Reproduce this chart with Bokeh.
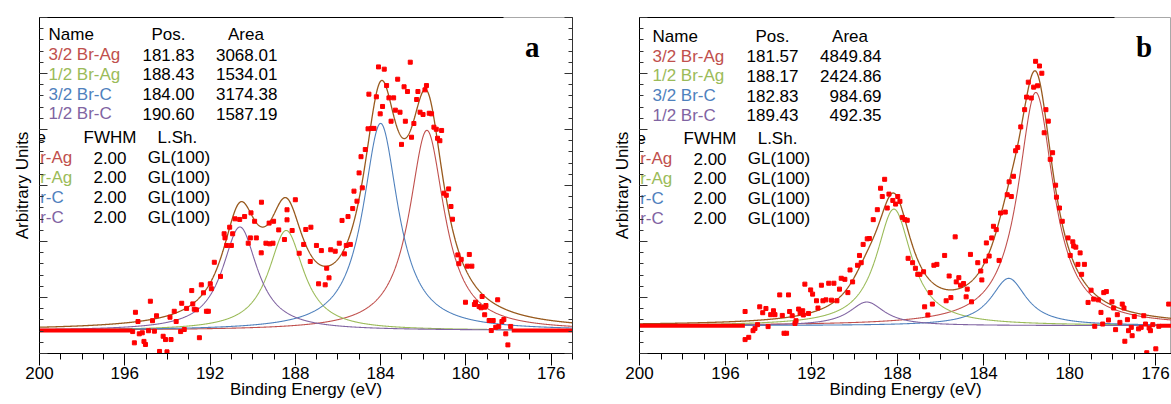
import numpy as np
from bokeh.plotting import figure
from bokeh.layouts import row
from bokeh.models import Range1d, FixedTicker, LinearAxis, ColumnDataSource, CustomJSTickFormatter
from bokeh.core.properties import value
from bokeh.embed import file_html
from bokeh.resources import INLINE

# ---------------- data ----------------
peak_names = ["3/2 Br-Ag", "1/2 Br-Ag", "3/2 Br-C", "1/2 Br-C"]
peak_colors = ["#c0504d", "#9bbb59", "#4f81bd", "#8064a2"]
fwhm = [2.00, 2.00, 2.00, 2.00]
line_shape = ["GL(100)", "GL(100)", "GL(100)", "GL(100)"]

pos_a = [181.83, 188.43, 184.00, 190.60]
area_a = [3068.01, 1534.01, 3174.38, 1587.19]
pos_b = [181.57, 188.17, 182.83, 189.43]
area_b = [4849.84, 2424.86, 984.69, 492.35]

background_a = 112.0
background_b = 184.0
# measured window; outside it the recorded data sit on the background
window_a = [195.65, 177.85]
window_b = [195.10, 175.80]

x_ticks = [200, 196, 192, 188, 184, 180, 176]

pts_a_x = [184.10, 183.83, 182.61, 183.20, 183.72, 182.90, 182.74, 184.55, 184.20, 183.61,
           183.39, 182.25, 181.85, 181.92, 182.31, 183.91, 183.31, 183.09, 182.15, 182.01,
           181.72, 181.61, 184.02, 183.51, 182.84, 182.44, 184.59, 184.42, 184.31, 181.50,
           181.39, 181.14, 182.55, 183.02, 181.33, 181.22, 184.72, 184.92, 185.01, 184.86,
           185.25, 181.03, 180.92, 180.81, 185.11, 185.31, 180.70, 185.53, 185.81, 180.63,
           189.59, 188.00, 190.08, 188.39, 190.38, 190.83, 190.61, 189.91, 189.02, 191.08,
           189.23, 188.39, 188.78, 188.15, 190.94, 191.34, 190.11, 189.83,
           195.50, 194.80, 195.38, 195.63, 195.32, 195.18, 195.55, 195.10, 195.03, 194.89,
           194.70, 194.61, 194.51, 194.37, 194.20, 194.09, 194.02, 193.88, 193.83, 193.68,
           193.59, 193.38, 193.33, 193.21, 193.10, 192.86, 192.81, 192.74, 192.64, 192.50,
           192.41, 192.31, 192.17, 192.08, 191.94, 191.99, 191.80, 191.51, 191.30, 191.22,
           191.00, 190.21, 189.60, 189.38, 189.20, 189.05, 188.51, 187.61, 187.82, 187.30,
           187.01, 186.78, 186.91, 186.60, 186.42, 186.53, 186.34, 186.13, 185.94, 185.70,
           185.61, 185.42, 187.51, 187.27,
           180.38, 180.22, 180.33, 179.84, 179.93, 179.72, 180.02, 179.55, 179.60, 179.38,
           179.29, 179.12, 179.24, 178.51, 179.06, 179.12, 178.91, 178.72, 178.60, 178.81,
           178.46, 178.31, 178.22, 178.13, 178.03, 177.90]
pts_a_y = [1398, 1387, 1421, 1338, 1307, 1301, 1278, 1265, 1252, 1247,
           1247, 1278, 1307, 1286, 1239, 1205, 1187, 1177, 1177, 1166,
           1172, 1169, 1169, 1133, 1133, 1122, 1096, 1098, 1098, 1104,
           1094, 1088, 1055, 1020, 1050, 1038, 995, 960, 881, 808,
           792, 782, 772, 803, 743, 707, 717, 668, 649, 655,
           738, 750, 686, 701, 668, 657, 654, 645, 645, 616,
           636, 652, 603, 600, 584, 584, 564, 564,
           201, 255, 156, 107, 96, 101, 52, 59, 44, 111,
           160, 109, 184, 10, 84, 68, 8, 177, 68, 206,
           156, 107, 245, 117, 220, 307, 242, 216, 213, 77,
           335, 296, 206, 206, 316, 340, 445, 376, 564, 527,
           527, 538, 491, 538, 535, 538, 556, 532, 489, 449,
           527, 502, 340, 335, 369, 416, 506, 499, 538, 486,
           527, 532, 605, 616,
           481, 459, 438, 483, 426, 426, 250, 250, 239, 229,
           223, 226, 278, 262, 234, 189, 161, 161, 128, 112,
           132, 156, 166, 96, 42, 132]

pts_b_x = [181.58, 181.40, 181.29, 181.92, 181.49, 181.67, 182.00, 181.78, 182.09, 181.10,
           180.99, 182.27, 181.18, 182.41, 182.51, 180.79, 180.90, 182.61, 182.81, 180.65,
           182.90, 182.71, 180.61, 180.47, 183.21, 182.99, 180.34,
           188.60, 188.79, 188.71, 188.40, 188.22, 188.09, 187.99, 187.89, 188.48, 187.78,
           187.66, 187.55, 188.94, 189.13,
           195.09, 194.92, 195.09, 194.72, 194.63, 194.51, 194.41, 194.27, 194.12, 194.02,
           193.90, 193.77, 193.70, 193.48, 193.36, 193.28, 193.16, 193.07, 193.02, 192.90,
           192.72, 192.77, 192.60, 192.53, 192.41, 192.38, 192.31, 192.14, 192.04, 191.95,
           191.77, 191.70, 191.54, 191.47, 191.33, 191.20, 191.07, 190.96, 190.82, 190.70,
           190.62, 190.45, 190.31, 190.21, 190.09, 189.86, 189.77, 189.69, 189.60, 189.41,
           189.31,
           187.51, 187.30, 187.17, 187.06, 186.96, 186.79, 186.74, 186.59, 186.48, 186.38,
           186.31, 186.17, 185.81, 185.74, 185.60, 185.52, 185.32, 185.27, 185.15, 185.07,
           184.93, 184.81, 184.76, 184.61, 184.27, 184.56, 184.13, 184.08, 183.91, 183.87,
           183.74, 183.62, 183.54, 183.41, 183.28,
           180.07, 179.85, 179.81, 179.71, 179.97, 179.51, 179.61, 179.44, 179.31, 179.14,
           179.00, 178.88, 178.66, 178.41, 178.29, 178.54, 178.83, 178.46, 178.19, 178.03,
           177.95, 177.78, 177.86, 177.55, 177.47, 177.31, 177.26, 177.13, 177.09, 177.43,
           176.99, 176.79, 176.67, 176.55, 176.41, 176.30, 176.24, 176.13, 175.99, 175.39,
           177.66, 176.47, 175.85]
pts_b_y = [1934, 1903, 1855, 1796, 1772, 1763, 1697, 1691, 1614, 1614,
           1538, 1500, 1461, 1364, 1342, 1329, 1285, 1173, 1136, 1114,
           1051, 1039, 1035, 963, 930, 936, 875,
           1153, 1094, 1039, 1055, 1013, 989, 1039, 1007, 963, 901,
           886, 882, 952, 886,
           278, 107, 92, 151, 166, 191, 309, 270, 298, 178,
           257, 283, 257, 388, 252, 134, 134, 388, 278, 250,
           217, 199, 294, 268, 283, 255, 459, 265, 421, 393,
           349, 301, 452, 349, 355, 465, 353, 465, 349, 426,
           498, 491, 403, 553, 474, 584, 649, 601, 722, 759,
           761,
           630, 601, 564, 524, 524, 541, 309, 255, 403, 327,
           584, 590, 649, 349, 513, 370, 772, 474, 502, 452,
           463, 375, 426, 656, 601, 342, 546, 487, 612, 732,
           645, 765, 842, 820, 616,
           765, 739, 711, 704, 649, 666, 590, 524, 590, 338,
           419, 360, 355, 403, 410, 272, 180, 195, 222, 342,
           301, 257, 158, 327, 301, 224, 151, 173, 118, 81,
           245, 163, 173, 250, 5, 169, 151, 191, 31, 327,
           206, 195, 180]

FONT = "Liberation Sans"
FONT_SIZE = "17px"
ENVELOPE = "#985a1e"
FIG_H = 404
FRAME_BOTTOM = 353


def lorentz(x, pos, area, w):
    g = w / 2.0
    return area / np.pi * g / ((x - pos) ** 2 + g ** 2)


def blank_fmt():
    return CustomJSTickFormatter(code="return ''")


def panel(tag, pos, area, bg, window, px, py, width, mb_left, mb_right, mb_top,
          x_end, y_end, ppe, table_dx, right_axis, top_black_px):
    cpp = y_end / (FRAME_BOTTOM - mb_top)   # counts per screen pixel

    def X(rel):   # layout helper: pixels from frame left -> eV
        return 200.0 - rel / ppe

    def Y(page_y):  # layout helper: page pixel row -> counts
        return (FRAME_BOTTOM - page_y) * cpp

    p = figure(width=width, height=FIG_H, x_range=Range1d(200, x_end), y_range=Range1d(0, y_end),
               output_backend="svg", toolbar_location=None,
               min_border_left=mb_left, min_border_right=mb_right, min_border_top=mb_top,
               min_border_bottom=FIG_H - FRAME_BOTTOM, x_axis_label="Binding Energy (eV)",
               y_axis_label="Arbitrary Units")
    p.grid.visible = False
    p.background_fill_color = "white"
    p.border_fill_color = "white"
    p.outline_line_color = "#a8a8a8"
    p.outline_line_width = 1

    xa = p.xaxis[0]
    xa.ticker = FixedTicker(ticks=x_ticks, minor_ticks=list(range(175, 201)))
    xa.major_tick_out = 12
    xa.major_tick_in = 0
    xa.minor_tick_out = 6
    xa.minor_tick_in = 0
    xa.major_label_standoff = 1
    xa.axis_label_standoff = -2
    xa.major_label_text_font = FONT
    xa.major_label_text_font_size = FONT_SIZE
    xa.major_label_text_color = "black"
    xa.axis_label_text_font = FONT
    xa.axis_label_text_font_size = FONT_SIZE
    xa.axis_label_text_font_style = "normal"
    xa.axis_label_text_color = "black"
    xa.axis_line_color = "black"
    xa.major_tick_line_color = "black"
    xa.minor_tick_line_color = "black"

    def yticker():
        return FixedTicker(ticks=[y_end * i / 6.0 for i in range(7)],
                           minor_ticks=[y_end * j / 30.0 for j in range(31)])

    ya = p.yaxis[0]
    ya.ticker = yticker()
    ya.formatter = blank_fmt()
    ya.major_tick_in = 8
    ya.major_tick_out = 0
    ya.minor_tick_in = 4
    ya.minor_tick_out = 0
    ya.major_label_standoff = 0
    ya.axis_label_standoff = 8
    ya.axis_label_text_font = FONT
    ya.axis_label_text_font_size = FONT_SIZE
    ya.axis_label_text_font_style = "normal"
    ya.axis_label_text_color = "black"
    ya.axis_line_color = "black"
    ya.major_tick_line_color = "#333333"
    ya.minor_tick_line_color = "#333333"

    if right_axis:
        ra = LinearAxis(ticker=yticker(), formatter=blank_fmt(),
                        major_tick_in=8, major_tick_out=0, minor_tick_in=4, minor_tick_out=0,
                        major_label_standoff=0,
                        axis_line_color="#333333", major_tick_line_color="#333333",
                        minor_tick_line_color="#333333")
        p.add_layout(ra, "right")
    # top frame edge: black over most of its length, the lighter outline shows at the right
    ta = LinearAxis(ticker=FixedTicker(ticks=[]), formatter=blank_fmt(),
                    major_tick_in=0, major_tick_out=0,
                    minor_tick_in=0, minor_tick_out=0,
                    major_label_standoff=0, axis_line_color="black",
                    bounds=(X(top_black_px), 200.0))
    p.add_layout(ta, "above")

    # fitted components (GL(100) = Lorentzian) from the table values
    xs = np.linspace(200, 175, 2001)
    total = np.full_like(xs, bg)
    for i in range(4):
        comp = lorentz(xs, pos[i], area[i], fwhm[i])
        total = total + comp
        p.line(xs, bg + comp, line_color=peak_colors[i], line_width=1.1)
    p.line(xs, total, line_color=ENVELOPE, line_width=1.3)

    # background stretches outside the measured window
    p.segment(x0=[200.0, window[1]], x1=[window[0], 175.0], y0=[bg, bg], y1=[bg, bg],
              line_color="#ff0000", line_width=4)
    p.scatter(px, py, marker="square", size=4, fill_color="#ff0000", line_color="#ff0000")

    # tables (second table is partly hidden behind the left frame edge, as in the original)
    items = []
    items.append(("Name", 9 + table_dx, 34, "black", "left"))
    items.append(("Pos.", 129 + table_dx, 34, "black", "center"))
    items.append(("Area", 206.5 + table_dx, 34, "black", "center"))
    for i in range(4):
        yy = 54 + 19.8 * i
        items.append((peak_names[i], 9 + table_dx, yy, peak_colors[i], "left"))
        items.append(("%.2f" % pos[i], 129 + table_dx, yy, "black", "center"))
        items.append(("%.2f" % area[i], 238 + table_dx, yy, "black", "right"))
    items.append(("Name", -39, 137, "black", "left"))
    items.append(("FWHM", 70.5, 137, "black", "center"))
    items.append(("L.Sh.", 138, 137, "black", "center"))
    for i in range(4):
        yy = 157 + 19.9 * i
        items.append((peak_names[i], -39, yy, peak_colors[i], "left"))
        items.append(("%.2f" % fwhm[i], 70.5, yy, "black", "center"))
        items.append((line_shape[i], 139.5, yy, "black", "center"))
    for al in ("left", "center", "right"):
        sel = [it for it in items if it[4] == al]
        src = ColumnDataSource(dict(x=[X(it[1]) for it in sel], y=[Y(it[2]) for it in sel],
                                    t=[it[0] for it in sel], c=[it[3] for it in sel]))
        p.text(x="x", y="y", text="t", text_color="c", source=src, text_align=al,
               text_baseline="middle", text_font=value(FONT), text_font_size=FONT_SIZE)

    tx, ty = (493, 46) if tag == "a" else (504.5, 45)
    p.text(x=[X(tx)], y=[Y(ty)], text=[tag], text_align="center", text_baseline="alphabetic",
           text_font=value("Liberation Serif"), text_font_style="bold", text_font_size="29px",
           text_color="black")
    return p


pa = panel("a", pos_a, area_a, background_a, window_a, pts_a_x, pts_a_y,
           width=600, mb_left=39, mb_right=28, mb_top=17, x_end=175.0, y_end=1639.0,
           ppe=21.33, table_dx=0, right_axis=True, top_black_px=464)
pb = panel("b", pos_b, area_b, background_b, window_b, pts_b_x, pts_b_y,
           width=571, mb_left=39, mb_right=0, mb_top=15, x_end=175.26, y_end=2224.0,
           ppe=21.5, table_dx=4, right_axis=False, top_black_px=475)

layout = row(pa, pb)
open("out.html", "w").write(file_html(layout, INLINE))
